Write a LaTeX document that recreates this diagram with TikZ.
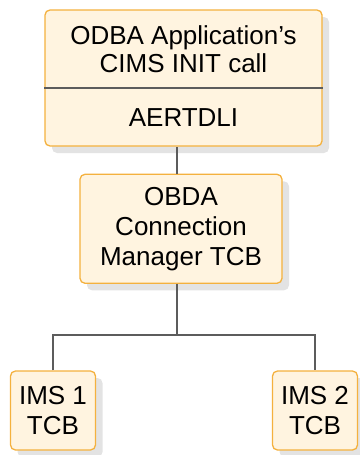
\documentclass[tikz,border=0pt]{standalone}
\usepackage{fontspec}
\setmainfont{Liberation Sans}
\usepackage{tikz}
\usetikzlibrary{positioning,shadows}
\usepackage{xcolor}
\definecolor{boxfill}{HTML}{FFF4E0}
\definecolor{boxline}{HTML}{F4B13E}
\definecolor{wire}{HTML}{5C5C5C}

\begin{document}
\begin{tikzpicture}[x=1pt, y=1pt,
  box/.style={draw=boxline, fill=boxfill, line width=1.3pt,
              rounded corners=5pt, align=center,
              font=\fontsize{26}{30}\selectfont,
              drop shadow={shadow xshift=7pt, shadow yshift=-7pt,
                           fill=black!11, opacity=1}},
  txt/.style={align=center, font=\fontsize{26}{28}\selectfont, inner sep=0pt},
  link/.style={draw=wire, line width=1.5pt},
  ]
  \useasboundingbox (0,0) rectangle (359,-455);

  \node[box, minimum width=277pt, minimum height=136pt] (app) at (183.5,-78) {};
  \node[txt] (appcall) at (183.5,-49) {ODBA Application's\\CIMS INIT call};
  \node[txt] (aertdli) at (183.5,-118) {AERTDLI};
  \draw[wire, line width=1.3pt] (app.west |- 0,-88) -- (app.east |- 0,-88);

  \node[box, minimum width=202pt, minimum height=109pt, below=27pt of app,
        xshift=-2.5pt] (mgr) {OBDA\\Connection\\Manager TCB};

  \node[box, minimum width=85pt, minimum height=79pt] (ims1) at (53,-410.5)
    {IMS 1\\TCB};
  \node[box, minimum width=85pt, minimum height=79pt] (ims2) at (315,-410.5)
    {IMS 2\\TCB};

  \draw[link] ([xshift=-4pt]mgr.north) -- ([xshift=-4pt]mgr.north |- app.south);
  \draw[link] ([xshift=-4pt]mgr.south) -- ++(0,-51) coordinate (split);
  \draw[link] (ims1.north) |- (split) -| (ims2.north);
\end{tikzpicture}
\end{document}
